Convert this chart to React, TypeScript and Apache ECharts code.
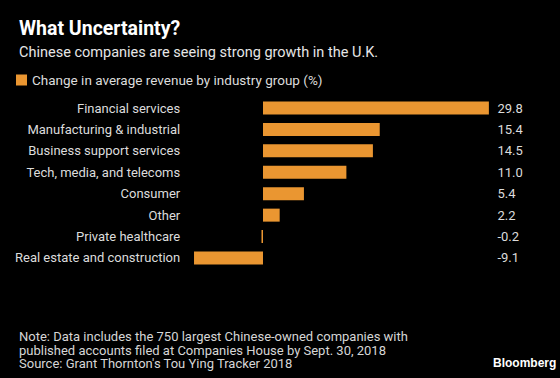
import React, { useEffect, useRef } from "react";
import * as echarts from "echarts";

const categories = [
  "Financial services",
  "Manufacturing & industrial",
  "Business support services",
  "Tech, media, and telecoms",
  "Consumer",
  "Other",
  "Private healthcare",
  "Real estate and construction",
];
const values = [29.8, 15.4, 14.5, 11.0, 5.4, 2.2, -0.2, -9.1];
const valueLabels = ["29.8", "15.4", "14.5", "11.0", "5.4", "2.2", "-0.2", "-9.1"];
const seriesName = "Change in average revenue by industry group (%)";

const FONT = "Roboto";
const ORANGE = "#EA9631";

export default function App() {
  const ref = useRef<HTMLDivElement>(null);
  useEffect(() => {
    document.body.style.margin = "0";
    const chart = echarts.init(ref.current!, null, { renderer: "svg" });
    chart.setOption({
      animation: false,
      backgroundColor: "#000000",
      textStyle: { fontFamily: FONT },
      title: [
        {
          text: "What Uncertainty?",
          left: 14,
          top: 13,
          textStyle: { color: "#ffffff", fontSize: 19.5, fontWeight: "bold", fontFamily: FONT },
        },
        {
          text: "Chinese companies are seeing strong growth in the U.K.",
          left: 14,
          top: 40,
          textStyle: { color: "#e6e6e6", fontSize: 14.5, fontWeight: "normal", fontFamily: FONT },
        },
        {
          text:
            "Note: Data includes the 750 largest Chinese-owned companies with\npublished accounts filed at Companies House by Sept. 30, 2018\nSource: Grant Thornton's Tou Ying Tracker 2018",
          left: 14,
          top: 325,
          textStyle: { color: "#d6d6d6", fontSize: 13, lineHeight: 13.5, fontWeight: "normal", fontFamily: FONT },
        },
        {
          text: "Bloomberg",
          left: 488,
          top: 352,
          textStyle: { color: "#ffffff", fontSize: 12, fontWeight: "bold", fontFamily: "Liberation Sans" },
        },
      ],
      legend: {
        left: 11,
        top: 68,
        icon: "rect",
        itemWidth: 11,
        itemHeight: 11,
        itemGap: 8,
        textStyle: { color: "#dcdcdc", fontSize: 13.5, fontFamily: FONT },
        data: [seriesName],
      },
      grid: { left: 187.2, width: 303.2, top: 97.3, height: 171.4 },
      xAxis: {
        type: "value",
        min: -10,
        max: 30,
        show: false,
      },
      yAxis: [
        {
          type: "category",
          data: categories,
          inverse: true,
          axisLine: { show: false, onZero: false },
          axisTick: { show: false },
          axisLabel: { color: "#dcdcdc", fontSize: 13, margin: 7, fontFamily: FONT },
        },
        {
          type: "category",
          data: valueLabels,
          inverse: true,
          position: "right",
          axisLine: { show: false, onZero: false },
          axisTick: { show: false },
          axisLabel: { color: "#dcdcdc", fontSize: 13, margin: 7, fontFamily: FONT },
        },
      ],
      series: [
        {
          name: seriesName,
          type: "bar",
          data: values,
          barWidth: 13,
          itemStyle: { color: ORANGE },
        },
      ],
    });
    return () => chart.dispose();
  }, []);
  return (
    <div
      ref={ref}
      style={{ width: 560, height: 378, position: "fixed", left: 0, top: 0 }}
    />
  );
}
